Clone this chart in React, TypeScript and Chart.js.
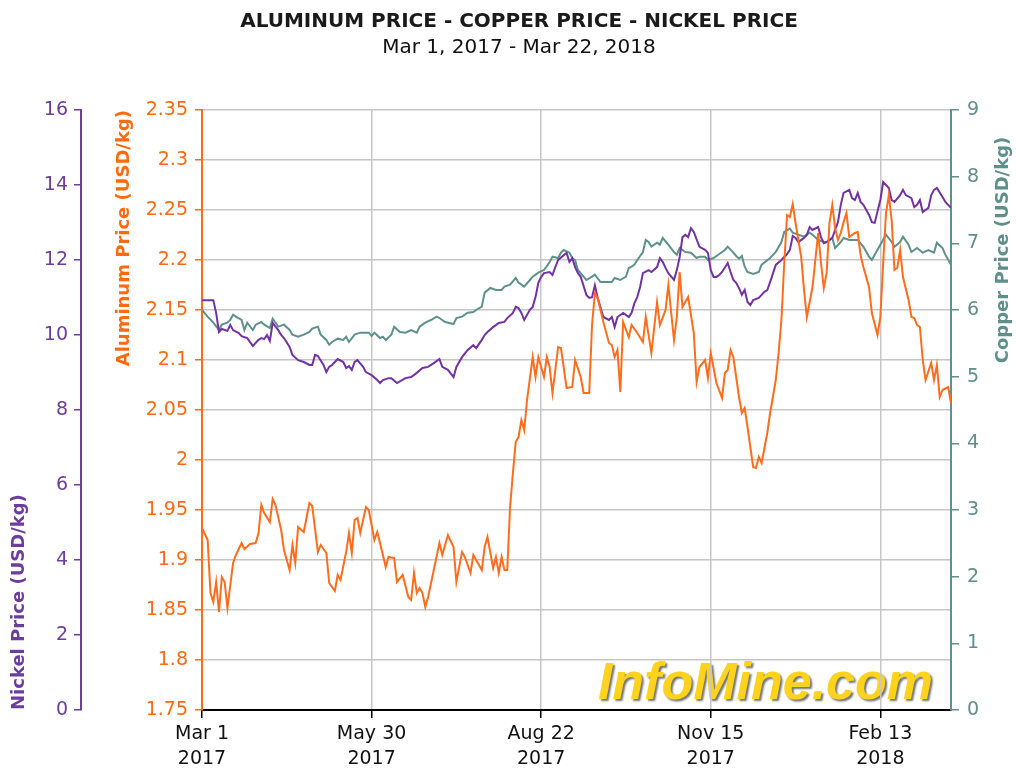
import React, { useEffect, useRef } from "react";
import { Chart, registerables } from "chart.js";

Chart.register(...registerables);

const FONT = "'DejaVu Sans', sans-serif";

const TITLE = "ALUMINUM PRICE - COPPER PRICE - NICKEL PRICE";
const SUBTITLE = "Mar 1, 2017 - Mar 22, 2018";

// trading-day index (0 = Mar 1 2017, 265 = Mar 22 2018)
const xTickDays = [0, 60, 120, 180, 240];
const xTickLabels = [
  ["Mar 1", "2017"],
  ["May 30", "2017"],
  ["Aug 22", "2017"],
  ["Nov 15", "2017"],
  ["Feb 13", "2018"],
];

const alTicks = [1.75, 1.8, 1.85, 1.9, 1.95, 2.0, 2.05, 2.1, 2.15, 2.2, 2.25, 2.3, 2.35];
const niTicks = [0, 2, 4, 6, 8, 10, 12, 14, 16];
const cuTicks = [0, 1, 2, 3, 4, 5, 6, 7, 8, 9];

// Aluminum (USD/kg)
const alDays = [
  0, 2, 3, 4, 5, 6, 7, 8, 9, 11, 12, 14, 15, 17, 19, 20, 21, 22, 24, 25, 26, 28, 29, 31, 32, 33, 34, 36, 38, 39,
  41, 42, 44, 45, 47, 48, 49, 51, 52, 53, 54, 55, 56, 58, 59, 61, 62, 63, 65, 66, 68, 69, 71, 73, 74, 75, 76, 77, 78, 79,
  80, 82, 84, 85, 87, 89, 90, 92, 93, 95, 96, 97, 99, 100, 101, 103, 104, 105, 106, 107, 108, 109, 110, 111, 112, 113, 114, 115, 117, 118,
  119, 121, 122, 123, 124, 126, 127, 129, 131, 132, 134, 135, 137, 138, 139, 140, 142, 144, 145, 146, 147, 148, 149, 151, 152, 154, 156, 157, 159, 161,
  162, 164, 165, 167, 168, 169, 170, 172, 174, 175, 176, 178, 179, 180, 182, 184, 185, 186, 187, 188, 190, 191, 192, 193, 195, 196, 197, 198, 200, 201,
  203, 204, 205, 206, 207, 208, 209, 210, 212, 213, 214, 216, 217, 218, 219, 220, 221, 222, 223, 224, 225, 226, 227, 228, 229, 231, 232, 233, 234, 236,
  237, 239, 240, 241, 242, 243, 244, 245, 246, 247, 248, 250, 251, 252, 253, 254, 255, 256, 258, 259, 260, 261, 262, 264, 265,
];
const alPrices = [
  1.932, 1.92, 1.867, 1.858, 1.878, 1.848, 1.883, 1.878, 1.852, 1.897, 1.905, 1.917, 1.911, 1.916, 1.917, 1.927, 1.955, 1.947, 1.938, 1.961, 1.955, 1.93, 1.91, 1.89, 1.915, 1.897, 1.933, 1.928, 1.957, 1.954,
  1.908, 1.915, 1.907, 1.877, 1.869, 1.885, 1.88, 1.908, 1.927, 1.907, 1.94, 1.942, 1.927, 1.953, 1.95, 1.92, 1.928, 1.917, 1.893, 1.903, 1.902, 1.878, 1.885, 1.863, 1.86, 1.887, 1.867, 1.872, 1.867, 1.853,
  1.863, 1.89, 1.917, 1.905, 1.925, 1.913, 1.878, 1.908, 1.903, 1.887, 1.905, 1.9, 1.89, 1.913, 1.923, 1.892, 1.903, 1.887, 1.903, 1.89, 1.89, 1.953, 1.987, 2.018, 2.023, 2.04, 2.03, 2.06, 2.103, 2.083,
  2.103, 2.083, 2.103, 2.093, 2.067, 2.113, 2.112, 2.072, 2.073, 2.1, 2.083, 2.067, 2.067, 2.135, 2.167, 2.162, 2.138, 2.117, 2.115, 2.103, 2.11, 2.068, 2.138, 2.123, 2.135, 2.127, 2.118, 2.143, 2.107, 2.158,
  2.135, 2.15, 2.175, 2.12, 2.143, 2.188, 2.153, 2.163, 2.127, 2.078, 2.093, 2.1, 2.082, 2.107, 2.077, 2.062, 2.087, 2.09, 2.11, 2.103, 2.063, 2.047, 2.052, 2.033, 1.993, 1.992, 2.003, 1.997, 2.027, 2.047,
  2.08, 2.107, 2.14, 2.197, 2.245, 2.243, 2.256, 2.237, 2.203, 2.17, 2.143, 2.173, 2.2, 2.227, 2.197, 2.172, 2.187, 2.237, 2.255, 2.232, 2.22, 2.227, 2.238, 2.247, 2.223, 2.227, 2.228, 2.205, 2.193, 2.173,
  2.147, 2.125, 2.143, 2.197, 2.247, 2.265, 2.24, 2.19, 2.192, 2.21, 2.183, 2.16, 2.143, 2.142, 2.135, 2.133, 2.1, 2.08, 2.097, 2.08, 2.095, 2.063, 2.07, 2.073, 2.057,
];

// Nickel (USD/kg)
const niDays = [
  0, 4, 5, 6, 7, 9, 10, 11, 13, 14, 16, 17, 18, 20, 21, 22, 23, 24, 25, 27, 28, 29, 31, 32, 34, 36, 38, 39, 40, 41,
  43, 44, 45, 46, 48, 50, 51, 52, 53, 54, 55, 57, 58, 60, 62, 63, 64, 66, 67, 69, 72, 74, 76, 78, 80, 82, 84, 85, 87, 89,
  90, 92, 94, 96, 97, 99, 100, 101, 103, 105, 107, 108, 110, 111, 112, 113, 114, 116, 117, 118, 119, 120, 121, 123, 124, 125, 126, 128, 129, 130,
  131, 132, 133, 134, 136, 137, 138, 139, 140, 142, 144, 145, 146, 147, 149, 151, 152, 153, 154, 155, 156, 158, 159, 161, 162, 163, 164, 165, 167, 168,
  169, 170, 171, 172, 173, 174, 176, 178, 179, 180, 181, 182, 183, 184, 186, 187, 188, 189, 190, 191, 192, 193, 194, 195, 197, 198, 199, 200, 201, 203,
  205, 207, 208, 209, 210, 211, 213, 214, 215, 216, 218, 219, 220, 221, 223, 224, 225, 226, 227, 229, 230, 231, 232, 233, 234, 236, 237, 238, 240, 241,
  243, 244, 245, 247, 248, 249, 251, 252, 253, 254, 255, 257, 258, 259, 260, 262, 263, 264, 265,
];
const niPrices = [
  10.93, 10.93, 10.59, 10.08, 10.16, 10.11, 10.27, 10.13, 10.05, 9.97, 9.92, 9.81, 9.71, 9.87, 9.92, 9.89, 10.0, 9.84, 10.32, 10.13, 10.0, 9.92, 9.68, 9.47, 9.33, 9.28, 9.2, 9.2, 9.47, 9.44,
  9.2, 9.01, 9.15, 9.2, 9.36, 9.28, 9.12, 9.17, 9.07, 9.28, 9.33, 9.15, 9.01, 8.93, 8.8, 8.72, 8.8, 8.85, 8.85, 8.72, 8.85, 8.88, 8.99, 9.12, 9.15, 9.25, 9.36, 9.15, 9.07, 8.88,
  9.15, 9.41, 9.6, 9.73, 9.65, 9.87, 10.0, 10.08, 10.21, 10.32, 10.35, 10.45, 10.59, 10.75, 10.72, 10.59, 10.4, 10.67, 10.75, 11.01, 11.39, 11.55, 11.65, 11.68, 11.6, 11.81, 12.0, 12.13, 12.19, 11.95,
  12.05, 11.81, 11.65, 11.55, 11.07, 10.99, 11.01, 11.33, 10.99, 10.48, 10.4, 10.48, 10.21, 10.48, 10.59, 10.48, 10.59, 10.85, 11.01, 11.28, 11.65, 11.73, 11.68, 11.81, 12.05, 11.95, 11.79, 11.65, 11.47, 11.73,
  12.08, 12.61, 12.67, 12.61, 12.85, 12.75, 12.35, 12.27, 12.19, 11.73, 11.55, 11.55, 11.6, 11.68, 11.92, 11.68, 11.47, 11.39, 11.25, 11.07, 11.2, 10.88, 10.8, 10.93, 10.99, 11.07, 11.15, 11.2, 11.41, 11.87,
  12.0, 12.16, 12.27, 12.64, 12.59, 12.48, 12.59, 12.67, 12.88, 12.8, 12.88, 12.61, 12.45, 12.48, 12.59, 12.8, 13.01, 13.47, 13.79, 13.87, 13.65, 13.6, 13.79, 13.55, 13.47, 13.2, 13.01, 12.99, 13.6, 14.08,
  13.92, 13.6, 13.55, 13.73, 13.87, 13.73, 13.65, 13.41, 13.47, 13.6, 13.28, 13.39, 13.73, 13.87, 13.92, 13.68, 13.55, 13.47, 13.39,
];

// Copper (USD/kg)
const cuDays = [
  0, 2, 4, 6, 7, 9, 10, 11, 12, 14, 15, 16, 18, 19, 21, 22, 24, 25, 27, 29, 31, 32, 34, 36, 38, 39, 41, 42, 44, 45,
  46, 48, 50, 51, 52, 54, 56, 57, 59, 60, 61, 63, 64, 65, 67, 68, 70, 72, 74, 76, 77, 79, 81, 83, 84, 86, 89, 90, 92, 94,
  96, 97, 99, 100, 102, 104, 106, 107, 109, 111, 112, 114, 116, 117, 119, 121, 123, 124, 126, 127, 128, 130, 131, 132, 133, 136, 138, 139, 141, 143,
  145, 146, 148, 150, 151, 152, 153, 154, 156, 157, 158, 159, 161, 162, 163, 165, 167, 168, 169, 171, 173, 175, 176, 178, 179, 181, 183, 185, 186, 188,
  189, 190, 191, 192, 193, 195, 197, 198, 201, 203, 205, 206, 208, 209, 211, 213, 215, 216, 218, 220, 221, 223, 224, 226, 227, 229, 231, 232, 234, 236,
  237, 238, 240, 242, 244, 245, 247, 248, 250, 251, 253, 255, 257, 259, 260, 262, 263, 265,
];
const cuPrices = [
  6.0, 5.9, 5.81, 5.7, 5.78, 5.81, 5.85, 5.93, 5.9, 5.85, 5.7, 5.81, 5.7, 5.78, 5.82, 5.78, 5.73, 5.87, 5.75, 5.78, 5.7, 5.63, 5.6, 5.63, 5.67, 5.72, 5.75, 5.63, 5.55, 5.48,
  5.52, 5.57, 5.55, 5.6, 5.52, 5.63, 5.66, 5.66, 5.66, 5.61, 5.66, 5.58, 5.6, 5.55, 5.63, 5.75, 5.67, 5.66, 5.7, 5.66, 5.75, 5.81, 5.85, 5.9, 5.88, 5.82, 5.79, 5.88, 5.9, 5.96,
  5.97, 6.0, 6.05, 6.26, 6.33, 6.3, 6.3, 6.35, 6.38, 6.48, 6.41, 6.35, 6.45, 6.5, 6.56, 6.6, 6.72, 6.8, 6.78, 6.86, 6.9, 6.86, 6.78, 6.75, 6.6, 6.45, 6.5, 6.53, 6.42, 6.42,
  6.42, 6.48, 6.45, 6.5, 6.63, 6.65, 6.68, 6.75, 6.87, 7.05, 7.02, 6.95, 7.01, 6.98, 7.08, 6.98, 6.87, 6.83, 6.93, 6.87, 6.86, 6.78, 6.8, 6.8, 6.75, 6.78, 6.84, 6.9, 6.95, 6.86,
  6.81, 6.77, 6.81, 6.65, 6.57, 6.54, 6.57, 6.68, 6.78, 6.87, 7.02, 7.17, 7.22, 7.16, 7.13, 7.1, 7.16, 7.13, 7.05, 7.02, 7.02, 7.08, 6.93, 7.02, 7.08, 7.05, 7.05, 7.05, 6.95, 6.8,
  6.75, 6.83, 6.98, 7.13, 7.02, 6.95, 7.02, 7.1, 6.98, 6.87, 6.93, 6.86, 6.9, 6.86, 7.01, 6.93, 6.83, 6.68,
];

const AL_COLOR = "#ff6c1c";
const AL_TEXT = "#ff6a10";
const NI_COLOR = "#7332a3";
const NI_TEXT = "#6c3d9c";
const CU_COLOR = "#5f918c";
const CU_TEXT = "#5f8f8b";
const GRID = "#c6c6c6";

const toPoints = (days: number[], vals: number[]) => days.map((d, i) => ({ x: d, y: vals[i] }));

const extrasPlugin = {
  id: "extras",
  beforeDraw(chart: any) {
    const { ctx, chartArea } = chart;
    ctx.save();
    ctx.font = "italic bold 52px 'Liberation Sans', sans-serif";
    ctx.textAlign = "right";
    ctx.textBaseline = "alphabetic";
    ctx.shadowColor = "rgba(70,70,70,0.75)";
    ctx.shadowOffsetX = 2;
    ctx.shadowOffsetY = 2;
    ctx.shadowBlur = 2;
    ctx.fillStyle = "#ffd21c";
    ctx.fillText("InfoMine.com", chartArea.right - 18, chartArea.bottom - 11);
    ctx.restore();
  },
  afterDraw(chart: any) {
    const { ctx } = chart;
    ctx.save();
    ctx.translate(1003, 250);
    ctx.rotate(-Math.PI / 2);
    ctx.font = `bold 18px ${FONT}`;
    ctx.fillStyle = CU_TEXT;
    ctx.textAlign = "center";
    ctx.textBaseline = "middle";
    ctx.fillText("Copper Price (USD/kg)", 0, 0);
    ctx.restore();
  },
};

export default function App() {
  const ref = useRef<HTMLCanvasElement | null>(null);

  useEffect(() => {
    if (!ref.current) return;
    const chart = new Chart(ref.current, {
      type: "line",
      data: {
        datasets: [
          {
            label: "Aluminum",
            data: toPoints(alDays, alPrices),
            yAxisID: "yAl",
            borderColor: AL_COLOR,
            borderWidth: 2,
            pointRadius: 0,
            tension: 0,
          },
          {
            label: "Nickel",
            data: toPoints(niDays, niPrices),
            yAxisID: "yNi",
            borderColor: NI_COLOR,
            borderWidth: 2,
            pointRadius: 0,
            tension: 0,
          },
          {
            label: "Copper",
            data: toPoints(cuDays, cuPrices),
            yAxisID: "yCu",
            borderColor: CU_COLOR,
            borderWidth: 2,
            pointRadius: 0,
            tension: 0,
          },
        ],
      },
      options: {
        responsive: false,
        animation: false,
        layout: { padding: { left: 22, right: 0, top: 0, bottom: 0 } },
        plugins: {
          legend: { display: false },
          tooltip: { enabled: false },
          title: {
            display: true,
            text: TITLE,
            color: "#1a1a1a",
            font: { family: FONT, size: 20, weight: "bold" },
            padding: { top: 10, bottom: 0 },
          },
          subtitle: {
            display: true,
            text: SUBTITLE,
            color: "#111",
            font: { family: FONT, size: 20 },
            padding: { top: 2, bottom: 50 },
          },
        },
        scales: {
          x: {
            type: "linear",
            position: "bottom",
            min: 0,
            max: 265,
            afterBuildTicks: (s: any) => {
              s.ticks = xTickDays.map((v) => ({ value: v }));
            },
            afterFit: (s: any) => {
              s.height = 59;
            },
            ticks: {
              callback: (_v: any, i: number) => xTickLabels[i],
              color: "#111",
              font: { family: FONT, size: 19, lineHeight: 1.3 },
              padding: 4,
              maxRotation: 0,
              autoSkip: false,
            },
            grid: { color: GRID, lineWidth: 1.5, tickColor: "#000", tickLength: 8 },
            border: { color: "#000", width: 2 },
          },
          yNi: {
            type: "linear",
            position: "left",
            weight: 2,
            min: 0,
            max: 16,
            afterBuildTicks: (s: any) => {
              s.ticks = niTicks.map((v) => ({ value: v }));
            },
            afterFit: (s: any) => {
              s.width = 59;
            },
            ticks: { color: NI_TEXT, font: { family: FONT, size: 19 }, padding: 6 },
            grid: { drawOnChartArea: false, color: NI_TEXT, tickColor: NI_TEXT, tickLength: 7, lineWidth: 1.5 },
            border: { color: NI_TEXT, width: 2 },
            title: {
              display: true,
              text: "Nickel Price (USD/kg)",
              color: NI_TEXT,
              align: "start",
              font: { family: FONT, size: 18, weight: "bold" },
              padding: { top: -13, bottom: 0 },
            },
          },
          yAl: {
            type: "linear",
            position: "left",
            weight: 1,
            min: 1.75,
            max: 2.35,
            afterBuildTicks: (s: any) => {
              s.ticks = alTicks.map((v) => ({ value: v }));
            },
            afterFit: (s: any) => {
              s.width = 121;
            },
            ticks: {
              color: AL_TEXT,
              font: { family: FONT, size: 19 },
              padding: 7,
              callback: (v: any) => String(Number(Number(v).toFixed(2))),
            },
            grid: { color: GRID, lineWidth: 1.5, tickColor: AL_COLOR, tickLength: 7 },
            border: { color: AL_COLOR, width: 2 },
            title: {
              display: true,
              text: "Aluminum Price (USD/kg)",
              color: AL_TEXT,
              align: "end",
              font: { family: FONT, size: 18, weight: "bold" },
              padding: { top: 33, bottom: 0 },
            },
          },
          yCu: {
            type: "linear",
            position: "right",
            min: 0,
            max: 9,
            afterBuildTicks: (s: any) => {
              s.ticks = cuTicks.map((v) => ({ value: v }));
            },
            afterFit: (s: any) => {
              s.width = 65;
            },
            ticks: { color: CU_TEXT, font: { family: FONT, size: 19 }, padding: 8 },
            grid: { drawOnChartArea: false, color: CU_COLOR, tickColor: CU_COLOR, tickLength: 8, lineWidth: 1.5 },
            border: { color: CU_COLOR, width: 2 },
          },
        },
      } as any,
      plugins: [extrasPlugin],
    });
    return () => chart.destroy();
  }, []);

  return (
    <div style={{ position: "absolute", left: 0, top: 0, width: 1016, height: 769, background: "#fff" }}>
      <canvas ref={ref} width={1016} height={769} style={{ display: "block" }} />
    </div>
  );
}
